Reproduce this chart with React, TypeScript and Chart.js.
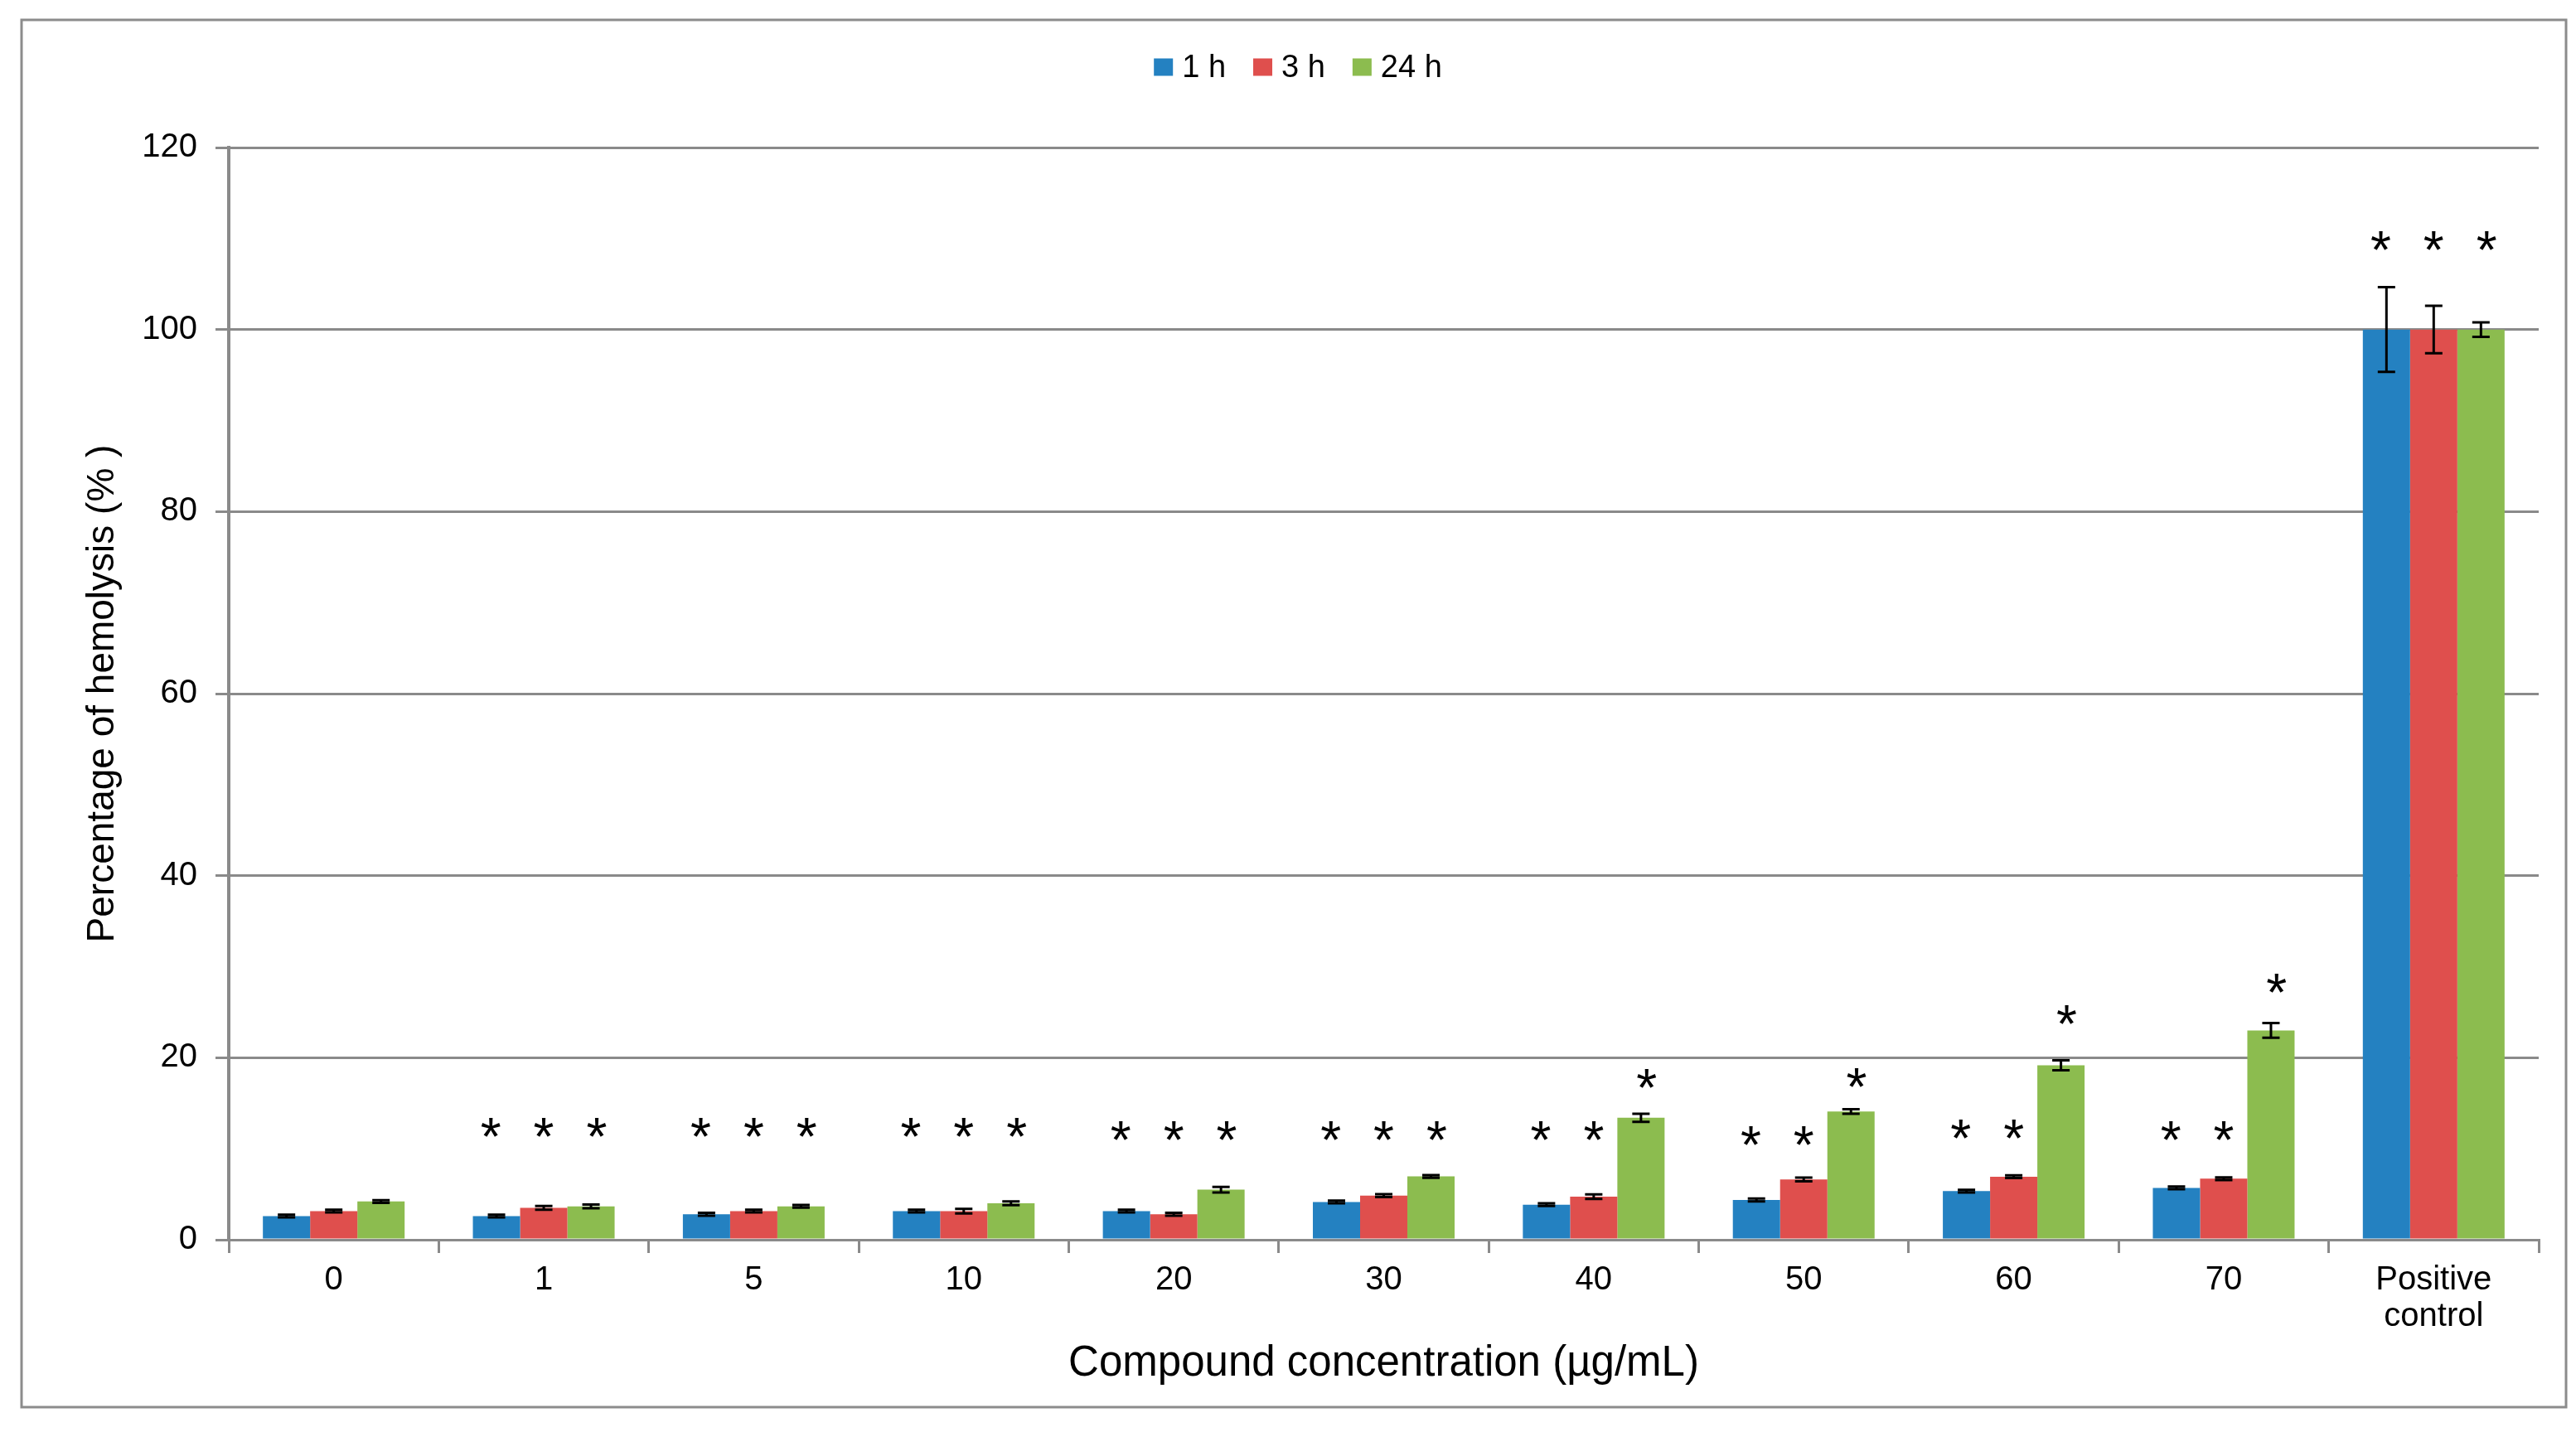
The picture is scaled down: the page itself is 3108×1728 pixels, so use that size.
import React, { useEffect, useRef } from 'react';
import { Chart, registerables } from 'chart.js';

Chart.register(...registerables);

// ---------- data ----------
const categories: (string | string[])[] = ['0', '1', '5', '10', '20', '30', '40', '50', '60', '70', ['Positive', 'control']];
const seriesLabels = ['1 h', '3 h', '24 h'];
const seriesColors = ['#2481C1', '#DF4F4D', '#8CBC4F'];

const values1h = [2.6, 2.6, 2.8, 3.15, 3.15, 4.15, 3.85, 4.37, 5.34, 5.7, 100];
const values3h = [3.15, 3.5, 3.15, 3.15, 2.8, 4.85, 4.73, 6.62, 6.93, 6.71, 100];
const values24h = [4.2, 3.67, 3.67, 4.0, 5.5, 6.96, 13.4, 14.1, 19.17, 23.0, 100];

const errors1h = [0.15, 0.15, 0.15, 0.15, 0.15, 0.15, 0.15, 0.15, 0.15, 0.15, 4.65];
const errors3h = [0.15, 0.2, 0.15, 0.25, 0.15, 0.15, 0.25, 0.2, 0.15, 0.15, 2.6];
const errors24h = [0.15, 0.2, 0.15, 0.2, 0.3, 0.15, 0.45, 0.25, 0.55, 0.8, 0.8];

// height (in % units) where a significance asterisk is placed; null = none
const stars1h = [null, 12.3, 12.3, 12.3, 12.0, 12.0, 12.0, 11.4, 12.2, 12.0, 109.8];
const stars3h = [null, 12.3, 12.3, 12.3, 12.0, 12.0, 12.0, 11.4, 12.2, 12.0, 109.8];
const stars24h = [null, 12.3, 12.3, 12.3, 12.0, 12.0, 17.7, 17.8, 24.7, 28.2, 109.8];

const yMin = 0;
const yMax = 120;
const yStep = 20;

const xTitle = 'Compound concentration (µg/mL)';
const yTitle = 'Percentage of hemolysis (% )';

const FONT = "'Liberation Sans', Arial, Helvetica, sans-serif";
const GRID = '#8A8A8A';

const frame = {
  id: 'frame',
  beforeDraw(chart: any) {
    const { ctx, width, height } = chart;
    ctx.save();
    ctx.fillStyle = '#ffffff';
    ctx.fillRect(0, 0, width, height);
    ctx.strokeStyle = '#8C8C8C';
    ctx.lineWidth = 3;
    ctx.strokeRect(26, 24, width - 26 - 12, height - 24 - 30);
    ctx.restore();
  },
};

const annotations = {
  id: 'annotations',
  afterDatasetsDraw(chart: any) {
    const { ctx } = chart;
    const y = chart.scales.y;
    const xs = chart.scales.x;
    ctx.save();
    chart.data.datasets.forEach((ds: any, di: number) => {
      const meta = chart.getDatasetMeta(di);
      meta.data.forEach((bar: any, i: number) => {
        const v = ds.data[i];
        const e = ds.errors[i];
        const x = bar.x;
        const yt = y.getPixelForValue(v + e);
        const yb = y.getPixelForValue(v - e);
        ctx.strokeStyle = '#000';
        ctx.lineWidth = 3;
        ctx.beginPath();
        ctx.moveTo(x, yt);
        ctx.lineTo(x, yb);
        ctx.moveTo(x - 10.5, yt);
        ctx.lineTo(x + 10.5, yt);
        ctx.moveTo(x - 10.5, yb);
        ctx.lineTo(x + 10.5, yb);
        ctx.stroke();

        const s = ds.stars[i];
        if (s !== null && s !== undefined) {
          const cx = xs.getPixelForValue(i);
          const sx = cx + (x - cx) * 1.12;
          ctx.font = `64px ${FONT}`;
          ctx.fillStyle = '#000';
          ctx.textAlign = 'center';
          ctx.textBaseline = 'alphabetic';
          const m = ctx.measureText('*');
          const yc = y.getPixelForValue(s);
          const yy = yc + (m.actualBoundingBoxAscent - m.actualBoundingBoxDescent) / 2;
          ctx.fillText('*', sx, yy);
        }
      });
    });
    ctx.restore();
  },
};

const topLegend = {
  id: 'topLegend',
  afterDraw(chart: any) {
    const { ctx } = chart;
    ctx.save();
    ctx.font = `38px ${FONT}`;
    const box = 23;
    const boxH = 21;
    const gap = 11;
    const spacing = 33;
    const items = chart.data.datasets.map((d: any) => ({ label: d.label, color: d.backgroundColor, w: ctx.measureText(d.label).width }));
    const total = items.reduce((a: number, it: any) => a + box + gap + it.w, 0) + spacing * (items.length - 1);
    let x = chart.width / 2 + 12 - total / 2;
    const cy = 81;
    items.forEach((it: any) => {
      ctx.fillStyle = it.color;
      ctx.fillRect(x, cy - boxH / 2, box, boxH);
      x += box + gap;
      ctx.fillStyle = '#000';
      ctx.textAlign = 'left';
      ctx.textBaseline = 'middle';
      ctx.fillText(it.label, x, cy + 2);
      x += it.w + spacing;
    });
    ctx.restore();
  },
};

export default function App() {
  const ref = useRef<HTMLCanvasElement | null>(null);

  useEffect(() => {
    document.body.style.margin = '0';
    document.body.style.overflow = 'hidden';
    if (!ref.current) return;
    const valueSets = [values1h, values3h, values24h];
    const errorSets = [errors1h, errors3h, errors24h];
    const starSets = [stars1h, stars3h, stars24h];
    const chart = new Chart(ref.current, {
      type: 'bar',
      data: {
        labels: categories,
        datasets: seriesLabels.map((label, k) => ({
          label,
          data: valueSets[k],
          errors: errorSets[k],
          stars: starSets[k],
          backgroundColor: seriesColors[k],
          borderWidth: 0,
          barPercentage: 1.0,
          categoryPercentage: 0.675,
        })) as any,
      },
      options: {
        animation: false,
        responsive: true,
        maintainAspectRatio: false,
        devicePixelRatio: 1,
        layout: { padding: { top: 178, right: 45, bottom: 0, left: 0 } },
        plugins: {
          legend: { display: false },
          tooltip: { enabled: false },
        },
        scales: {
          x: {
            afterFit: (s: any) => { s.height = 232; },
            grid: {
              display: true,
              drawOnChartArea: false,
              drawTicks: true,
              tickLength: 16,
              offset: true,
              color: GRID,
              lineWidth: 3,
            },
            border: { display: true, color: GRID, width: 3 },
            ticks: {
              color: '#000',
              padding: 11,
              maxRotation: 0,
              autoSkip: false,
              font: { family: FONT, size: 40, lineHeight: 1.1 },
            },
            title: {
              display: true,
              text: xTitle,
              color: '#000',
              font: { family: FONT, size: 51, lineHeight: 1.2 },
              padding: { top: 0, bottom: 51 },
            },
          },
          y: {
            min: yMin,
            max: yMax,
            afterFit: (s: any) => { s.width = 276; },
            grid: {
              color: GRID,
              lineWidth: 3,
              drawTicks: true,
              tickLength: 16,
            },
            border: { display: true, color: GRID, width: 4 },
            ticks: {
              stepSize: yStep,
              color: '#000',
              padding: 22,
              font: { family: FONT, size: 40 },
            },
            title: {
              display: true,
              text: yTitle,
              color: '#000',
              font: { family: FONT, size: 46, lineHeight: 1.2 },
              padding: { top: 97, bottom: 0 },
            },
          },
        },
      },
      plugins: [frame, annotations, topLegend],
    } as any);
    return () => chart.destroy();
  }, []);

  return (
    <div style={{ width: '3108px', height: '1728px', position: 'relative' }}>
      <canvas ref={ref} />
    </div>
  );
}
